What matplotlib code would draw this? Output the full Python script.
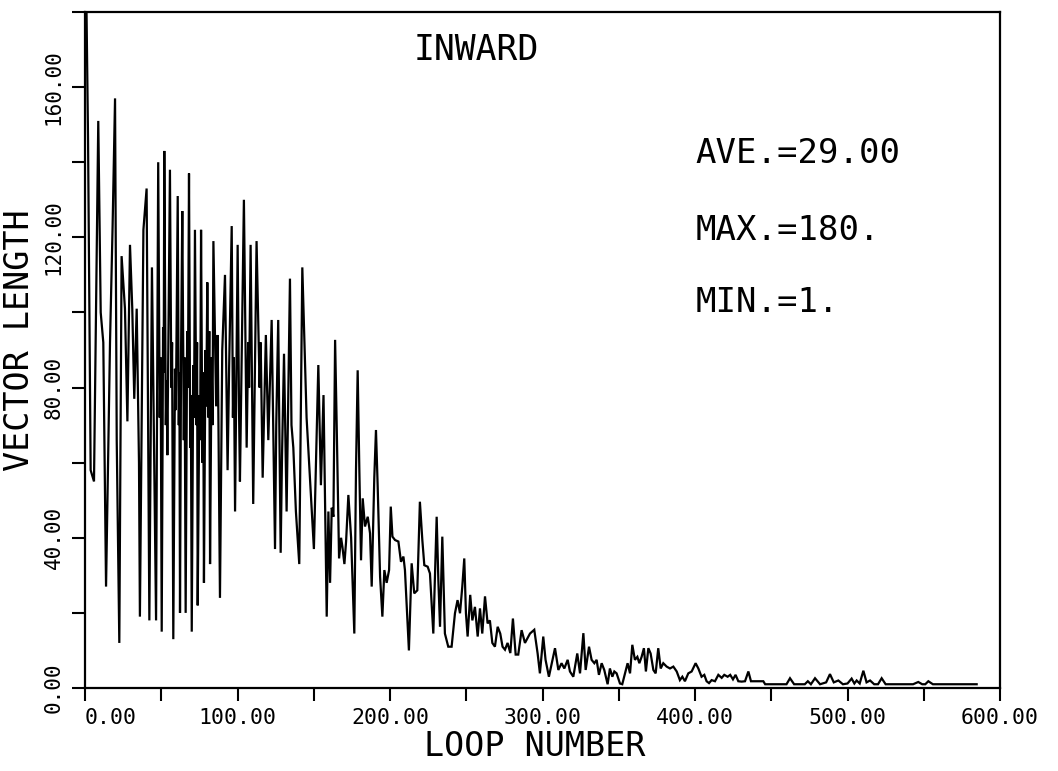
import matplotlib
matplotlib.use("Agg")
import matplotlib.pyplot as plt
from matplotlib.ticker import MultipleLocator, FormatStrFormatter, FuncFormatter

# ---- data: vertices of the plotted line (loop number, vector length) ----
loop = [
    1, 2, 3.7, 5.9, 8.7, 10.3, 12, 13.8, 16.4, 18.1, 19.7, 20.8, 22.5, 24, 26.2, 27.8,
    29.5, 31, 32.3, 33.9, 35.4, 36, 38.3, 40.4, 42.2, 43.9, 46.6,
    48, 49, 49.6, 50.3, 51.2, 51.6, 52, 53, 53.5, 54, 55.7, 56.6, 57.1, 57.9, 59, 59.6,
    60.8, 61.5, 61.9, 62.3, 63, 63.8, 64.8, 65.3, 66, 67, 67.5, 68.2, 69, 69.4, 70, 71,
    71.5, 72.1, 73, 73.5, 73.9, 75, 75.5, 76.1, 77, 77.5, 78, 79, 79.5, 80.2, 81, 81.5,
    82, 83, 83.6, 84.2, 86, 87, 88.5, 90, 91.8, 93.5, 94.5, 96.2, 97, 97.6, 98.4, 100.1,
    101, 101.6, 104.2, 106, 107, 107.6, 108.6, 110.3, 112.5, 114.5, 115.2, 116.5, 118.6,
    120.2, 122.4, 124.6, 125.4, 126.7, 128.3, 129.2, 130.5, 132.2, 134.4, 135.4, 136.6,
    138.3, 140.5, 142.5, 145.3, 150.1, 153, 154.7, 156.4, 158.5, 159.6, 160.7,
    161.8, 162.9, 164, 165, 166.6, 167.9, 168.8, 170.1, 171.2, 172.7, 174.5, 176.6,
    177.7, 178.8, 179.9, 181, 182.1, 183.6, 185.4, 186.9, 188, 189.7, 190.8, 191.9,
    193.5, 195, 196.3, 197.8, 199.4, 200.5, 201.6, 203.3, 205.5, 207.2, 208.8, 209.8,
    212.4, 214.2, 215.9, 217.9, 219.6, 221.2, 222.5, 224.7, 226.2, 228.4, 230.6, 231.7,
    232.8, 234.3, 236, 238.2, 240.4, 242.6, 244.3, 245.9, 247.4, 248.7, 249.8, 250.9,
    252.6, 254, 255.7, 257.5, 259, 260.5, 262.3, 264, 265.5, 267.1, 268.8, 270.6, 272.3,
    273.8, 275.4, 277.1, 278.9, 280.6, 282.4, 284.1, 286.3, 288.5, 291.8, 294.6, 296.8,
    298.3, 300.5, 302, 304.2, 308.2, 310.4, 312.5, 314.3, 316.5, 318, 320.2, 322.8,
    324.6, 326.8, 328.3, 330.5, 332.2, 334, 335.5, 337, 338.8, 340.5, 342.7, 344.2,
    345.8, 347.1, 348.6, 350.8, 352.3, 354.1, 355.8, 357.4, 358.9, 360.6, 362.2, 363.5,
    365, 366.5, 367.8, 369.4, 370.9, 372.7, 374.2, 375.9, 377.5, 379.2, 381.4, 383.6,
    385.8, 388, 390.1, 391.7, 393.4, 395.6, 397.8, 400.4, 402.2, 404.3, 406.1, 407.6,
    409.2, 410.9, 413.1, 415.3, 417.5, 419.2, 421.4, 423.1, 424.9, 426.6, 428.4, 430.6,
    432.8, 435, 436.7, 439.3, 442.6, 444.8, 446, 460, 462.3, 465, 472, 474, 476, 478.7,
    482, 486, 488.5, 491, 494, 497, 500, 502.7, 504.5, 506, 508, 510.4, 512.5, 514.8,
    517.5, 520, 522.4, 525, 543, 546.4, 549, 551, 553, 556, 584.7,
]
length = [
    180, 146, 58, 55, 151, 100, 92, 27, 92, 123, 157, 66, 12, 115, 101, 71,
    118, 101, 77, 101, 60, 19, 122, 133, 18, 112, 18,
    140, 72, 88, 15, 96, 84, 143, 70, 82, 62, 138, 80, 92, 13, 85, 74,
    131, 70, 84, 20, 90, 127, 66, 88, 20, 95, 80, 137, 64, 78, 15, 86,
    72, 122, 70, 92, 22, 78, 66, 122, 60, 84, 28, 90, 75, 108, 72, 95,
    33, 88, 70, 119, 75, 94, 24, 90, 110, 58, 85, 123, 72, 88, 47, 118,
    74, 55, 130, 64, 92, 80, 118, 49, 119, 80, 92, 56, 94,
    66, 98, 37, 70, 98, 36, 62, 89, 47, 109, 70, 64,
    47, 33, 112, 72, 37, 86, 54, 78, 19, 47, 28,
    48, 45.6, 92.7, 71, 34.5, 40, 37.6, 33, 39, 51.4, 40, 14.5,
    58, 84.6, 58, 34, 50.5, 43, 45.6, 41.2, 27, 56, 68.7, 54,
    29.6, 19, 31.4, 28, 31.4, 48.3, 40.3, 39.4, 39, 33.6, 35, 31.4,
    10, 33.2, 25.2, 26, 49.6, 39.4, 32.7, 32.3, 30.5, 14.5, 45.6, 28.8,
    16.3, 40.3, 14.5, 11, 11, 19.9, 23.4, 19.9, 27, 34.5, 19.9, 13.7,
    24.8, 18, 21.6, 13.7, 21.2, 14.5, 24.4, 17.2, 18, 12, 11, 16.3, 14.5,
    11, 10.2, 12, 9.3, 18.5, 8.9, 8.9, 15.4, 12, 14.5, 15.5, 9.2,
    3.9, 13.7, 7.5, 3, 10.6, 4.8, 6.6, 5.2, 7.5, 4.4, 3, 9.2,
    3.9, 14.6, 4.8, 11, 7.5, 6.6, 7.5, 3.5, 6.6, 4.8, 1, 5.2,
    3, 4.4, 3.9, 1.2, 1, 3.9, 6.6, 3.9, 11.5, 7.5, 8.3, 6.6,
    8.3, 10.6, 4.4, 10.6, 9.2, 4.8, 3.9, 10.6, 5.2, 6.6, 5.7, 5.2,
    5.7, 4.4, 2.1, 3, 1.8, 3.9, 4.4, 6.6, 5.2, 3, 3.5, 1.8,
    1.3, 2.1, 1.8, 3.5, 2.7, 3.5, 3, 3.5, 2.3, 3.5, 1.8, 1.7,
    1.8, 4.4, 1.8, 1.8, 1.8, 1.8, 1, 1, 2.6, 1, 1, 1.8, 1, 2.6,
    1, 1.5, 3.7, 1.5, 2, 1, 1.2, 2.5, 1.2, 2, 1.2, 4.6, 1.5, 2,
    1, 1, 2.6, 1, 1, 1.6, 1, 1, 1.8, 1, 1,
]

title_text = "INWARD"
stats_text = ["AVE.=29.00", "MAX.=180.", "MIN.=1."]
x_label = "LOOP NUMBER"
y_label = "VECTOR LENGTH"

FONT = ["DejaVu Sans Mono"]

fig = plt.figure(figsize=(10.58, 7.71), dpi=100)
ax = fig.add_axes([85 / 1058, 83 / 771, 915 / 1058, 676 / 771])

ax.plot(loop, length, color="black", linewidth=1.6, solid_joinstyle="miter")

ax.set_xlim(0, 600)
ax.set_ylim(0, 180)

ax.xaxis.set_major_locator(MultipleLocator(100))
ax.xaxis.set_minor_locator(MultipleLocator(50))
ax.yaxis.set_major_locator(MultipleLocator(40))
ax.yaxis.set_minor_locator(MultipleLocator(20))
# the first x label is drawn separately (left-aligned at the origin, as in the plot)
ax.xaxis.set_major_formatter(FuncFormatter(lambda v, p: "" if v == 0 else f"{v:.2f}"))
ax.yaxis.set_major_formatter(FormatStrFormatter("%.2f"))

ax.tick_params(which="both", direction="out", length=9.5, width=1.5, color="black",
               top=False, right=False)
ax.tick_params(axis="x", which="major", pad=5, labelsize=15.5, labelfontfamily=FONT[0])
ax.tick_params(axis="y", which="major", pad=6, labelsize=15, labelfontfamily=FONT[0],
               labelrotation=90)
for lab in ax.get_yticklabels():
    lab.set_va("center")

ax.text(0, -0.029, "0.00", transform=ax.get_xaxis_transform(), ha="left", va="top",
        fontsize=15.5, family=FONT)

for sp in ax.spines.values():
    sp.set_linewidth(1.6)
    sp.set_color("black")

ax.set_xlabel(x_label, fontsize=24, family=FONT)
ax.set_ylabel(y_label, fontsize=24, family=FONT)
ax.xaxis.set_label_coords(0.491, -0.087)
ax.xaxis.label.set_va("center")
ax.yaxis.set_label_coords(-0.072, 0.515)
ax.yaxis.label.set_va("center")

ax.text(0.428, 0.944, title_text, transform=ax.transAxes, ha="center", va="center",
        fontsize=25, family=FONT)
for txt, yf in zip(stats_text, [0.791, 0.677, 0.571]):
    ax.text(0.667, yf, txt, transform=ax.transAxes, ha="left", va="center",
            fontsize=24.5, family=FONT)

fig.savefig("out.png", dpi=100, facecolor="white")
